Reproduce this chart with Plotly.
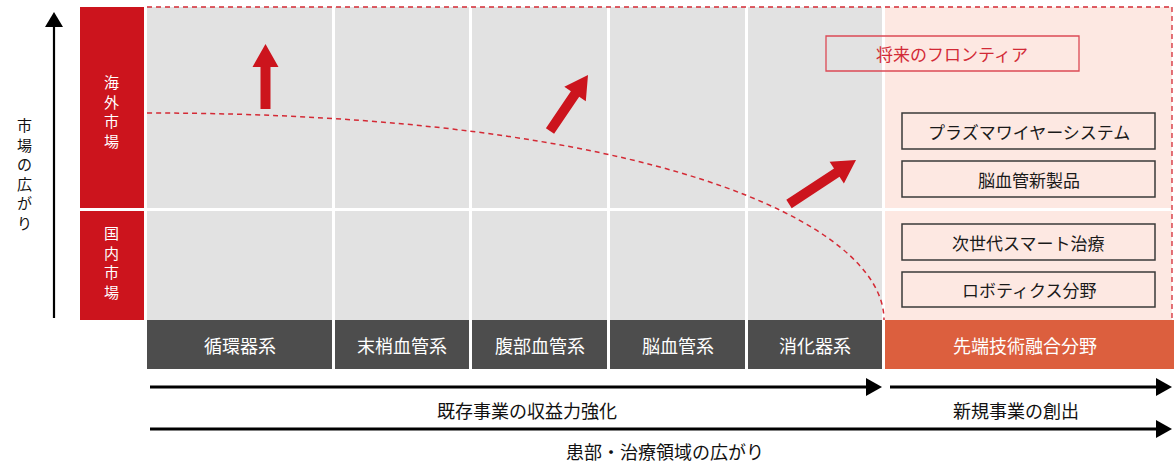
import math
import plotly.graph_objects as go

# ---------------- content ----------------
columns = ["循環器系", "末梢血管系", "腹部血管系", "脳血管系", "消化器系"]
frontier_column = "先端技術融合分野"
market_rows = ["海外市場", "国内市場"]
y_axis_label = "市場の広がり"
frontier_title = "将来のフロンティア"
frontier_items_overseas = ["プラズマワイヤーシステム", "脳血管新製品"]
frontier_items_domestic = ["次世代スマート治療", "ロボティクス分野"]
bottom_labels = ["既存事業の収益力強化", "新規事業の創出", "患部・治療領域の広がり"]

# ---------------- style ----------------
FONT = "Noto Sans CJK JP"
RED = "#cc141d"
GRAY = "#e2e2e2"
PINK = "#fde8e2"
DARK = "#4d4d4d"
ORANGE = "#dc5f3e"
DASH_RED = "#d42a35"

W, H = 1174, 463
col_edges = [(147, 332), (335, 469), (472, 607), (610, 745), (748, 882)]
front_x = (885, 1172)
row_edges = [(7, 208), (211, 320)]
bar_y = (320, 369)

shapes = []
ann = []


def rect(x0, y0, x1, y1, fill, line_color=None, lw=0):
    shapes.append(dict(type="rect", xref="x", yref="y", x0=x0, y0=y0, x1=x1, y1=y1,
                       fillcolor=fill, line=dict(color=line_color or fill, width=lw),
                       layer="below"))


def text(x, y, s, size=15, color="#222", xanchor="center"):
    ann.append(dict(x=x, y=y, xref="x", yref="y", text=s, showarrow=False,
                    xanchor=xanchor, yanchor="middle",
                    font=dict(family=FONT, size=size, color=color)))


def vtext(x, y_center, s, size, color):
    # upright characters stacked vertically in one text block
    text(x, y_center, "<br>".join(s), size=size, color=color)


def block_arrow(tail, tip, shaft=10, head_w=26, head_l=23, color=RED):
    x0, y0 = tail
    x1, y1 = tip
    L = math.hypot(x1 - x0, y1 - y0)
    ux, uy = (x1 - x0) / L, (y1 - y0) / L
    px, py = -uy, ux
    bx, by = x1 - ux * head_l, y1 - uy * head_l
    pts = [
        (x0 + px * shaft / 2, y0 + py * shaft / 2),
        (bx + px * shaft / 2, by + py * shaft / 2),
        (bx + px * head_w / 2, by + py * head_w / 2),
        (x1, y1),
        (bx - px * head_w / 2, by - py * head_w / 2),
        (bx - px * shaft / 2, by - py * shaft / 2),
        (x0 - px * shaft / 2, y0 - py * shaft / 2),
    ]
    path = "M" + " L".join(f"{a:.1f},{b:.1f}" for a, b in pts) + " Z"
    shapes.append(dict(type="path", xref="x", yref="y", path=path,
                       fillcolor=color, line=dict(color=color, width=0)))


def line_arrow(x0, y0, x1, y1, lw=3, head_l=16, head_hw=9, color="#000"):
    if y0 == y1:
        sgn = 1 if x1 > x0 else -1
        bx = x1 - sgn * head_l
        shapes.append(dict(type="line", xref="x", yref="y", x0=x0, y0=y0, x1=bx, y1=y1,
                           line=dict(color=color, width=lw)))
        path = f"M{x1},{y1} L{bx},{y1 - head_hw} L{bx},{y1 + head_hw} Z"
    else:
        sgn = 1 if y1 > y0 else -1
        by = y1 - sgn * head_l
        shapes.append(dict(type="line", xref="x", yref="y", x0=x0, y0=y0, x1=x1, y1=by,
                           line=dict(color=color, width=lw)))
        path = f"M{x1},{y1} L{x1 - head_hw},{by} L{x1 + head_hw},{by} Z"
    shapes.append(dict(type="path", xref="x", yref="y", path=path,
                       fillcolor=color, line=dict(color=color, width=0)))


# grid cells
for (cx0, cx1) in col_edges:
    for (ry0, ry1) in row_edges:
        rect(cx0, ry0, cx1, ry1, GRAY)
for (ry0, ry1) in row_edges:
    rect(front_x[0], ry0, front_x[1], ry1, PINK)

# market row labels
label_centers = [111, 262]
for label, (ry0, ry1), yc in zip(market_rows, row_edges, label_centers):
    rect(80, ry0, 144, ry1, RED)
    vtext(111, yc, label, 15, "white")

# column bars
for name, (cx0, cx1) in zip(columns, col_edges):
    rect(cx0, bar_y[0], cx1, bar_y[1], DARK)
    text((cx0 + cx1) / 2, (bar_y[0] + bar_y[1]) / 2, name, size=18, color="white")
rect(front_x[0], bar_y[0], W, bar_y[1], ORANGE)
text((front_x[0] + front_x[1]) / 2 - 4, (bar_y[0] + bar_y[1]) / 2, frontier_column, size=18, color="white")

# dashed outline of frontier and top
shapes.append(dict(type="line", xref="x", yref="y", x0=147, y0=7, x1=1172, y1=7,
                   line=dict(color=DASH_RED, width=1.3, dash="5px,4px")))
shapes.append(dict(type="line", xref="x", yref="y", x0=1172, y0=7, x1=1172, y1=320,
                   line=dict(color=DASH_RED, width=1.3, dash="5px,4px")))
# dashed curve (market boundary)
shapes.append(dict(type="path", xref="x", yref="y",
                   path="M147,113 C647,113 884,222 884,320",
                   line=dict(color=DASH_RED, width=1.5, dash="5px,4px")))

# frontier title box
shapes.append(dict(type="rect", xref="x", yref="y", x0=826, y0=36, x1=1079, y1=71,
                   line=dict(color="#dc4a55", width=1.3), fillcolor="rgba(0,0,0,0)"))
text(952, 53.5, frontier_title, size=17, color="#d22a36")

# frontier item boxes
item_boxes = [(113, 149), (161, 197), (224, 260), (272, 307)]
for name, (by0, by1) in zip(frontier_items_overseas + frontier_items_domestic, item_boxes):
    shapes.append(dict(type="rect", xref="x", yref="y", x0=902, y0=by0, x1=1155, y1=by1,
                       line=dict(color="#3a3a3a", width=1.5), fillcolor="rgba(0,0,0,0)"))
    text(1028.5, (by0 + by1) / 2, name, size=17, color="#1a1a1a")

# red growth arrows
block_arrow((265.5, 109), (265.5, 44))
block_arrow((550, 131), (588, 75))
block_arrow((789, 204), (856, 160))

# left axis
line_arrow(54, 318, 54, 12, lw=2.2, head_l=15, head_hw=9)
vtext(24, 173.5, y_axis_label, 15, "#111")

# bottom arrows
line_arrow(150, 387, 882, 387)
line_arrow(890, 387, 1172, 387)
line_arrow(150, 429, 1172, 429)
text(527, 409.5, bottom_labels[0], size=18, color="#111")
text(1016, 409.5, bottom_labels[1], size=18, color="#111")
text(665, 451, bottom_labels[2], size=18, color="#111")

fig = go.Figure()
fig.add_trace(go.Scatter(x=[0, W], y=[0, H], mode="markers", marker=dict(opacity=0),
                         hoverinfo="skip", showlegend=False))
fig.update_layout(
    width=W, height=H,
    margin=dict(l=0, r=0, t=0, b=0),
    paper_bgcolor="white", plot_bgcolor="white",
    xaxis=dict(range=[0, W], visible=False, fixedrange=True),
    yaxis=dict(range=[H, 0], visible=False, fixedrange=True),
    shapes=shapes, annotations=ann, showlegend=False,
)
fig.write_html("out.html", config={"displayModeBar": False})
